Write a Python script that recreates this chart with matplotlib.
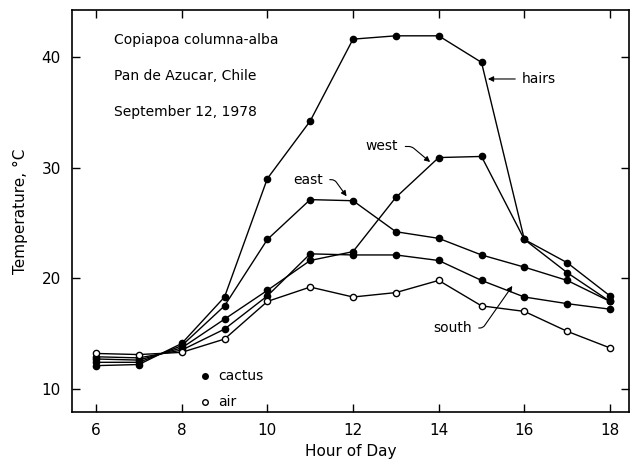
"""
Copiapoa columna-alba temperatures through the day.
"""

import matplotlib.pyplot as plt

hours = [6, 7, 8, 9, 10, 11, 12, 13, 14, 15, 16, 17, 18]

hairs = [12.1, 12.2, 14.1, 18.3, 29.0, 34.2, 41.6, 41.9, 41.9, 39.5, 23.5, 21.4, 18.4]
east = [12.4, 12.4, 13.9, 17.5, 23.5, 27.1, 27.0, 24.2, 23.6, 22.1, 21.0, 19.8, 17.9]
west = [12.7, 12.6, 13.7, 16.3, 18.9, 21.6, 22.4, 27.3, 30.9, 31.0, 23.5, 20.5, 17.9]
south = [12.9, 12.8, 13.5, 15.4, 18.4, 22.2, 22.1, 22.1, 21.6, 19.8, 18.3, 17.7, 17.2]
air = [13.2, 13.1, 13.3, 14.5, 17.9, 19.2, 18.3, 18.7, 19.8, 17.5, 17.0, 15.2, 13.7]

title_lines = ["Copiapoa columna-alba", "Pan de Azucar, Chile", "September 12, 1978"]

plt.rcParams['font.family'] = ['DejaVu Sans']

fig = plt.figure(figsize=(6.32, 4.67), dpi=100)
ax = fig.add_axes([0.114, 0.118, 0.881, 0.861])

for series in [hairs, east, west, south]:
    ax.plot(hours, series, color='black', lw=1.0, marker='o', ms=4.5,
            markerfacecolor='black', markeredgecolor='black', zorder=3)
ax.plot(hours, air, color='black', lw=1.0, marker='o', ms=4.5,
        markerfacecolor='white', markeredgecolor='black', zorder=4)

ax.set_xlim(5.44, 18.44)
ax.set_ylim(7.92, 44.25)
ax.set_xticks([6, 8, 10, 12, 14, 16, 18])
ax.set_yticks([10, 20, 30, 40])
ax.tick_params(direction='in', length=6, width=1, top=True, right=True,
               labelsize=11, pad=8)
for s in ax.spines.values():
    s.set_linewidth(1.2)

ax.set_xlabel('Hour of Day', fontsize=11)
ax.set_ylabel('Temperature, °C', fontsize=11, labelpad=10)

# site / date block
for i, line in enumerate(title_lines):
    ax.text(0.075, 0.925 - i * 0.09, line, transform=ax.transAxes,
            fontsize=10, va='center', ha='left')

# curve labels
arrow = dict(arrowstyle='-|>', color='black', lw=0.8, mutation_scale=8,
             shrinkA=3, shrinkB=0)
ax.annotate('hairs', xy=(15.15, 38.0), xytext=(15.95, 38.0), fontsize=10,
            va='center', arrowprops=arrow)
ax.annotate('west', xy=(13.8, 30.5), xytext=(12.3, 31.9), fontsize=10,
            va='center',
            arrowprops=dict(arrow, connectionstyle='angle,angleA=0,angleB=140,rad=3'))
ax.annotate('east', xy=(11.85, 27.4), xytext=(10.6, 28.9), fontsize=10,
            va='center',
            arrowprops=dict(arrow, connectionstyle='angle,angleA=0,angleB=126,rad=3'))
ax.annotate('south', xy=(15.72, 19.3), xytext=(13.87, 15.5), fontsize=10,
            va='center',
            arrowprops=dict(arrow, connectionstyle='angle,angleA=0,angleB=235,rad=3'))

# marker key
ax.plot([8.54], [11.2], 'o', color='black', ms=4)
ax.text(8.85, 11.2, 'cactus', fontsize=10, va='center')
ax.plot([8.54], [8.8], 'o', markerfacecolor='white', markeredgecolor='black', ms=4)
ax.text(8.85, 8.8, 'air', fontsize=10, va='center')

plt.savefig('out.png', dpi=100)
plt.close()
